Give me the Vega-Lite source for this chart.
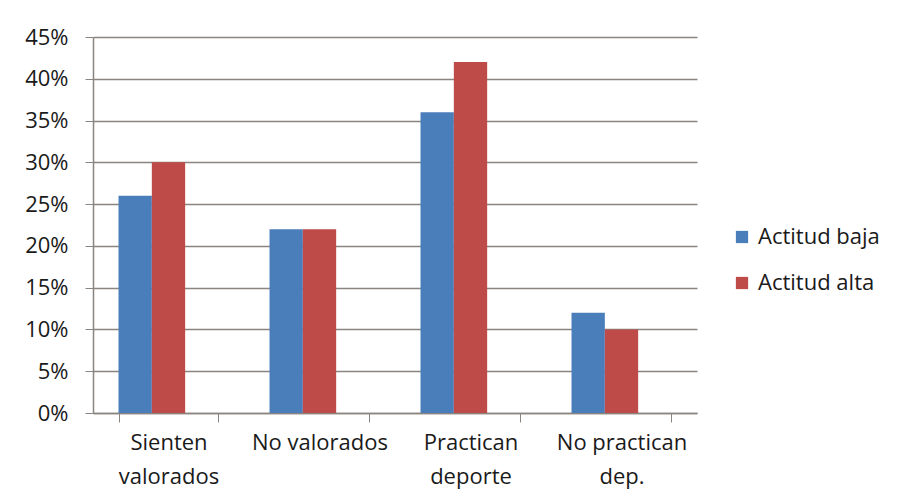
{
  "$schema": "https://vega.github.io/schema/vega-lite/v6.json",
  "width": 604,
  "height": 376,
  "autosize": {"type": "none"},
  "padding": {"left": 93, "top": 37, "right": 207, "bottom": 90},
  "background": "white",
  "data": {
    "values": [
      {"categoria": "Sienten valorados", "serie": "Actitud baja", "valor": 0.26},
      {"categoria": "Sienten valorados", "serie": "Actitud alta", "valor": 0.30},
      {"categoria": "No valorados", "serie": "Actitud baja", "valor": 0.22},
      {"categoria": "No valorados", "serie": "Actitud alta", "valor": 0.22},
      {"categoria": "Practican deporte", "serie": "Actitud baja", "valor": 0.36},
      {"categoria": "Practican deporte", "serie": "Actitud alta", "valor": 0.42},
      {"categoria": "No practican dep.", "serie": "Actitud baja", "valor": 0.12},
      {"categoria": "No practican dep.", "serie": "Actitud alta", "valor": 0.10}
    ]
  },
  "mark": {"type": "bar"},
  "encoding": {
    "x": {
      "field": "categoria",
      "type": "nominal",
      "sort": null,
      "scale": {"paddingInner": 0.338, "paddingOuter": 0.169},
      "axis": {
        "title": null,
        "labelAngle": 0,
        "labelFont": "Open Sans",
        "labelFontSize": 22,
        "labelColor": "#1a1a1a",
        "labelLineHeight": 34,
        "labelPadding": 10,
        "labelExpr": "datum.value == 'No valorados' ? 'No valorados' : (datum.value == 'Sienten valorados' ? ['Sienten', 'valorados'] : (datum.value == 'Practican deporte' ? ['Practican', 'deporte'] : (datum.value == 'No practican dep.' ? ['No practican', 'dep.'] : '')))",
        "tickBand": "extent",
        "tickSize": 9,
        "tickColor": "#8a8580",
        "domainColor": "#8a8580",
        "domainWidth": 1.5
      }
    },
    "xOffset": {
      "field": "serie",
      "type": "nominal",
      "scale": {"domain": ["Actitud baja", "Actitud alta", "(vacía)"], "paddingInner": 0, "paddingOuter": 0}
    },
    "y": {
      "field": "valor",
      "type": "quantitative",
      "scale": {"domain": [0, 0.45], "nice": false},
      "axis": {
        "title": null,
        "format": ".0%",
        "values": [0, 0.05, 0.1, 0.15, 0.2, 0.25, 0.3, 0.35, 0.4, 0.45],
        "labelFont": "Open Sans",
        "labelFontSize": 22,
        "labelColor": "#1a1a1a",
        "labelPadding": 17,
        "tickSize": 8,
        "tickColor": "#8a8580",
        "gridColor": "#8a8580",
        "gridWidth": 1.3,
        "domainColor": "#8a8580",
        "domainWidth": 1.5
      }
    },
    "color": {
      "field": "serie",
      "type": "nominal",
      "scale": {"domain": ["Actitud baja", "Actitud alta"], "range": ["#4a7ebb", "#be4b48"]},
      "legend": {
        "title": null,
        "orient": "none",
        "legendX": 638,
        "legendY": 189,
        "symbolType": "square",
        "symbolSize": 150,
        "symbolStrokeWidth": 0,
        "labelFont": "Open Sans",
        "labelFontSize": 22,
        "labelColor": "#1a1a1a",
        "rowPadding": 24,
        "labelOffset": 5
      }
    }
  },
  "config": {"view": {"stroke": null}}
}
